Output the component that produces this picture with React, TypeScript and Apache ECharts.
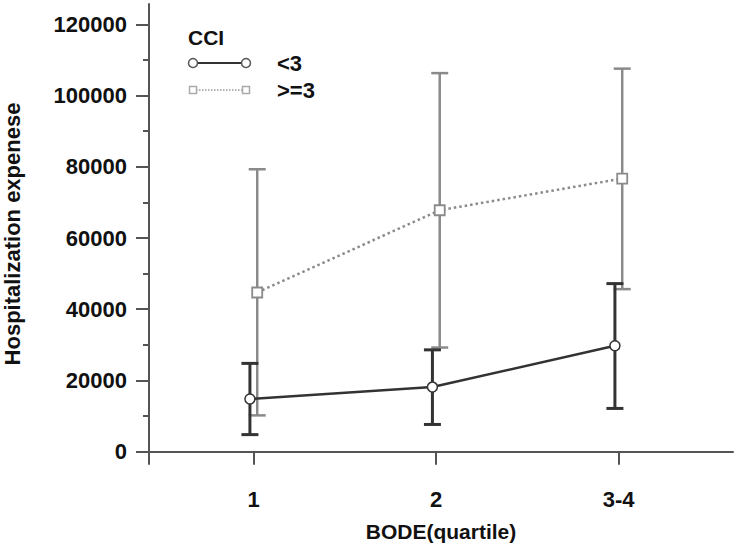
import React, { useEffect, useRef } from "react";
import * as echarts from "echarts";

const CATEGORIES = ["1", "2", "3-4"];
const SERIES_NAMES = ["<3", ">=3"];
const LEGEND_TITLE = "CCI";
const X_TITLE = "BODE(quartile)";
const Y_TITLE = "Hospitalization expenese";

// CCI < 3
const MEAN_LOW = [14800, 18150, 29750];
const UPPER_LOW = [24800, 28600, 47200];
const LOWER_LOW = [4800, 7650, 12150];

// CCI >= 3
const MEAN_HIGH = [44700, 67800, 76700];
const UPPER_HIGH = [79300, 106300, 107550];
const LOWER_HIGH = [10200, 29250, 45650];

const Y_TICKS = [0, 20000, 40000, 60000, 80000, 100000, 120000];
const Y_MINOR_TICKS = [10000, 30000, 50000, 70000, 90000, 110000];

const FONT = "'Liberation Sans', Arial, sans-serif";
const TEXT_COLOR = "#111";
const DARK = "#333";
const GRAY = "#8a8a8a";
const DODGE = 0.02;

export default function App() {
  const ref = useRef<HTMLDivElement>(null);

  useEffect(() => {
    if (!ref.current) return;
    const chart = echarts.init(ref.current, null, { renderer: "svg" });

    const xs = CATEGORIES.map((_, i) => i + 1);
    const lowLine = xs.map((x, i) => [x - DODGE, MEAN_LOW[i]]);
    const highLine = xs.map((x, i) => [x + DODGE, MEAN_HIGH[i]]);
    const lowErr = xs.map((x, i) => [x - DODGE, LOWER_LOW[i], UPPER_LOW[i]]);
    const highErr = xs.map((x, i) => [x + DODGE, LOWER_HIGH[i], UPPER_HIGH[i]]);

    const errRender = (color: string, width: number) => (params: any, api: any) => {
      const x = api.value(0);
      const lo = api.coord([x, api.value(1)]);
      const hi = api.coord([x, api.value(2)]);
      const hw = 8.5;
      const style = { stroke: color, lineWidth: width };
      return {
        type: "group",
        children: [
          { type: "line", shape: { x1: hi[0], y1: hi[1], x2: lo[0], y2: lo[1] }, style },
          { type: "line", shape: { x1: hi[0] - hw, y1: hi[1], x2: hi[0] + hw, y2: hi[1] }, style },
          { type: "line", shape: { x1: lo[0] - hw, y1: lo[1], x2: lo[0] + hw, y2: lo[1] }, style },
        ],
      };
    };

    const labelStyle = {
      fontFamily: FONT,
      fontWeight: "bold" as const,
      fontSize: 22,
      color: TEXT_COLOR,
    };

    const option: any = {
      animation: false,
      backgroundColor: "#fff",
      grid: { left: 149, right: 2, top: 4, bottom: 84, containLabel: false, outerBoundsMode: "none" },
      xAxis: {
        type: "value",
        min: 0.427,
        max: 3.627,
        name: X_TITLE,
        nameLocation: "middle",
        nameGap: 57,
        nameTextStyle: { ...labelStyle, fontSize: 21 },
        axisLine: { show: true, lineStyle: { color: "#555", width: 2 } },
        axisTick: {
          show: true,
          length: 13,
          customValues: xs,
          lineStyle: { color: "#555", width: 2 },
        },
        axisLabel: {
          ...labelStyle,
          margin: 24,
          customValues: xs,
          formatter: (v: number) => CATEGORIES[Math.round(v) - 1] ?? "",
        },
        splitLine: { show: false },
      },
      yAxis: [
        {
          type: "value",
          min: -3450,
          max: 125700,
          name: Y_TITLE,
          nameLocation: "middle",
          nameRotate: 90,
          nameGap: 126,
          nameTextStyle: { ...labelStyle, fontSize: 22 },
          axisLine: { show: true, lineStyle: { color: "#555", width: 2 } },
          axisTick: {
            show: true,
            length: 13,
            customValues: Y_TICKS,
            lineStyle: { color: "#555", width: 2 },
          },
          axisLabel: {
            ...labelStyle,
            margin: 22,
            customValues: Y_TICKS,
            formatter: (v: number) => String(v),
          },
          splitLine: { show: false },
        },
        {
          type: "value",
          min: -3450,
          max: 125700,
          position: "left",
          axisLine: { show: false },
          axisTick: {
            show: true,
            length: 6,
            customValues: Y_MINOR_TICKS,
            lineStyle: { color: "#555", width: 2 },
          },
          axisLabel: { show: false },
          splitLine: { show: false },
        },
      ],
      series: [
        {
          type: "custom",
          name: SERIES_NAMES[1] + " err",
          renderItem: errRender(GRAY, 2.5),
          data: highErr,
          z: 1,
          silent: true,
        },
        {
          type: "custom",
          name: SERIES_NAMES[0] + " err",
          renderItem: errRender(DARK, 3),
          data: lowErr,
          z: 2,
          silent: true,
        },
        {
          type: "line",
          name: SERIES_NAMES[1],
          data: highLine,
          z: 3,
          symbol: "rect",
          symbolSize: 10,
          lineStyle: { color: GRAY, width: 2.5, type: [2.5, 3] },
          itemStyle: { color: "#fff", borderColor: GRAY, borderWidth: 1.8 },
        },
        {
          type: "line",
          name: SERIES_NAMES[0],
          data: lowLine,
          z: 4,
          symbol: "circle",
          symbolSize: 10,
          lineStyle: { color: DARK, width: 2.5 },
          itemStyle: { color: "#fff", borderColor: DARK, borderWidth: 1.5 },
        },
      ],
      graphic: [
        {
          type: "text",
          x: 188,
          y: 37,
          style: { text: LEGEND_TITLE, font: `bold 21px ${FONT}`, fill: TEXT_COLOR, verticalAlign: "middle" },
        },
        {
          type: "line",
          shape: { x1: 193, y1: 63, x2: 246, y2: 63 },
          style: { stroke: DARK, lineWidth: 2 },
        },
        { type: "circle", shape: { cx: 193, cy: 63, r: 4.5 }, style: { fill: "#fff", stroke: "#555", lineWidth: 1.5 } },
        { type: "circle", shape: { cx: 246, cy: 63, r: 4.5 }, style: { fill: "#fff", stroke: "#555", lineWidth: 1.5 } },
        {
          type: "line",
          shape: { x1: 193, y1: 90, x2: 246, y2: 90 },
          style: { stroke: "#999", lineWidth: 1.5, lineDash: [1.5, 1.5] },
        },
        { type: "rect", shape: { x: 189.5, y: 86.5, width: 7, height: 7 }, style: { fill: "#fff", stroke: "#aaa", lineWidth: 1.5 } },
        { type: "rect", shape: { x: 242.5, y: 86.5, width: 7, height: 7 }, style: { fill: "#fff", stroke: "#aaa", lineWidth: 1.5 } },
        {
          type: "text",
          x: 277,
          y: 63,
          style: { text: SERIES_NAMES[0], font: `bold 22px ${FONT}`, fill: TEXT_COLOR, verticalAlign: "middle" },
        },
        {
          type: "text",
          x: 277,
          y: 90,
          style: { text: SERIES_NAMES[1], font: `bold 22px ${FONT}`, fill: TEXT_COLOR, verticalAlign: "middle" },
        },
      ],
    };

    chart.setOption(option);
    return () => chart.dispose();
  }, []);

  return (
    <div
      ref={ref}
      style={{ position: "absolute", left: 0, top: 0, width: 735, height: 548 }}
    />
  );
}
